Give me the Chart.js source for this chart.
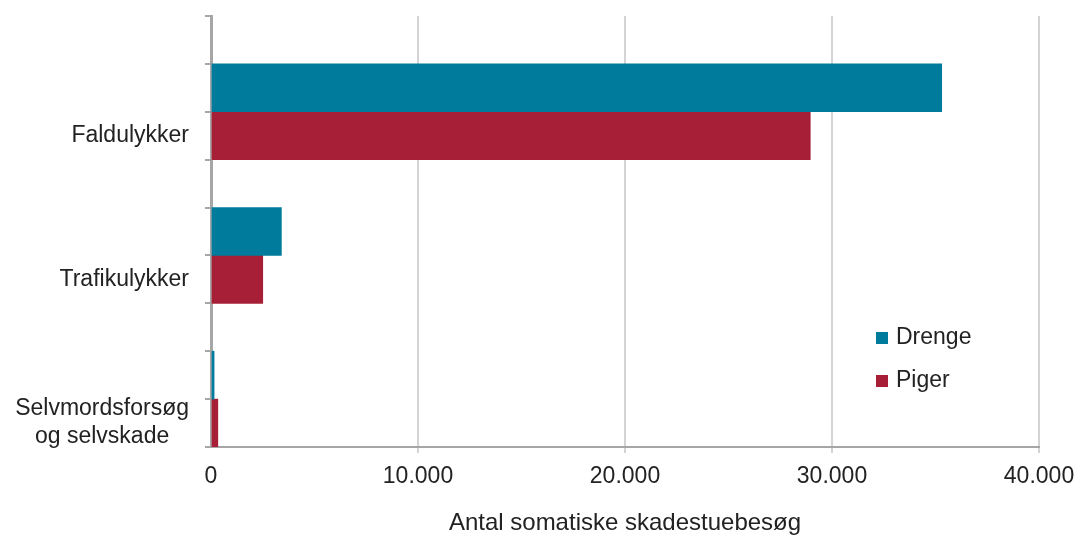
<!DOCTYPE html>
<html>
<head>
<meta charset="utf-8">
<title>Skadestuebesøg</title>
<script src="https://cdn.jsdelivr.net/npm/chart.js@4/dist/chart.umd.min.js"></script>
<style>
  html, body { margin: 0; padding: 0; background: #fff; }
  #wrap { width: 1080px; height: 543px; }
</style>
</head>
<body>
<div id="wrap"><canvas id="chart" width="1080" height="543"></canvas></div>
<script>
// kategorier og værdier
const categories = ['Faldulykker', 'Trafikulykker', ['Selvmordsforsøg', 'og selvskade']];
const drenge = [35300, 3400, 150];
const piger = [28950, 2500, 330];
const xTicks = [0, 10000, 20000, 30000, 40000];

const FONT = '"Liberation Sans", Arial, sans-serif';
const TEXT = '#222222';
const AXIS = '#a6a6a6';

function fmt(v) {
    return String(v).replace(/\B(?=(\d{3})+(?!\d))/g, '.');
}

// y-labels: right-aligned block, lines centered within it (like Excel)
const yLabelPlugin = {
    id: 'yLabels',
    afterDraw(chart) {
        const y = chart.scales.y;
        const ctx = chart.ctx;
        const slot = (y.bottom - y.top) / (categories.length * 3);
        ctx.save();
        // tick marks every third of a category
        ctx.strokeStyle = AXIS;
        ctx.lineWidth = 2;
        for (let i = 0; i <= categories.length * 3; i++) {
            const py = Math.round(y.top + i * slot);
            ctx.beginPath();
            ctx.moveTo(y.right - 6, py);
            ctx.lineTo(y.right, py);
            ctx.stroke();
        }
        ctx.font = '23px ' + FONT;
        ctx.fillStyle = TEXT;
        ctx.textAlign = 'center';
        ctx.textBaseline = 'middle';
        categories.forEach((c, i) => {
            const lines = Array.isArray(c) ? c : [c];
            const w = Math.max(...lines.map(l => ctx.measureText(l).width));
            const cx = 189 - w / 2;
            const cy = y.getPixelForValue(i) + slot;
            const lh = 28;
            lines.forEach((l, k) => {
                ctx.fillText(l, cx, cy + (k - (lines.length - 1) / 2) * lh);
            });
        });
        ctx.restore();
    }
};

const legendPlugin = {
    id: 'innerLegend',
    afterDraw(chart) {
        const ctx = chart.ctx;
        ctx.save();
        ctx.font = '23px ' + FONT;
        ctx.textBaseline = 'middle';
        let row = 0;
        chart.data.datasets.forEach(ds => {
            if (!ds.label) return;
            const cy = 338 + row * 43;
            ctx.fillStyle = ds.backgroundColor;
            ctx.fillRect(876, cy - 6, 12, 12);
            ctx.fillStyle = TEXT;
            ctx.fillText(ds.label, 896, cy);
            row++;
        });
        ctx.restore();
    }
};

new Chart(document.getElementById('chart'), {
    type: 'bar',
    data: {
        labels: categories,
        datasets: [
            { label: '', data: categories.map(() => null), backgroundColor: 'rgba(0,0,0,0)' },
            { label: 'Drenge', data: drenge, backgroundColor: '#007b9c' },
            { label: 'Piger', data: piger, backgroundColor: '#a61f37' }
        ]
    },
    options: {
        indexAxis: 'y',
        responsive: false,
        devicePixelRatio: 1,
        animation: false,
        categoryPercentage: 1,
        barPercentage: 1,
        layout: { padding: { top: 16, right: 41, left: 0, bottom: 0 } },
        plugins: {
            legend: { display: false },
            tooltip: { enabled: false }
        },
        scales: {
            x: {
                min: 0,
                max: 40000,
                afterBuildTicks: s => { s.ticks = xTicks.map(v => ({ value: v })); },
                afterFit: s => { s.height = 96; s.paddingLeft = 0; s.paddingRight = 0; },
                grid: {
                    color: ctx => ctx.tick && ctx.tick.value === 0 ? 'rgba(0,0,0,0)' : '#d4d4d4',
                    lineWidth: 2,
                    tickLength: 6
                },
                border: { color: AXIS, width: 2 },
                ticks: {
                    color: TEXT,
                    font: { family: FONT, size: 23 },
                    padding: 10,
                    maxRotation: 0,
                    callback: v => fmt(v)
                },
                title: {
                    display: true,
                    text: 'Antal somatiske skadestuebesøg',
                    color: TEXT,
                    font: { family: FONT, size: 24 },
                    padding: { top: 0, bottom: 5 }
                }
            },
            y: {
                afterFit: s => { s.width = 211; },
                grid: { display: false },
                border: { color: AXIS, width: 3 },
                ticks: { display: false }
            }
        }
    },
    plugins: [yLabelPlugin, legendPlugin]
});
</script>
</body>
</html>
